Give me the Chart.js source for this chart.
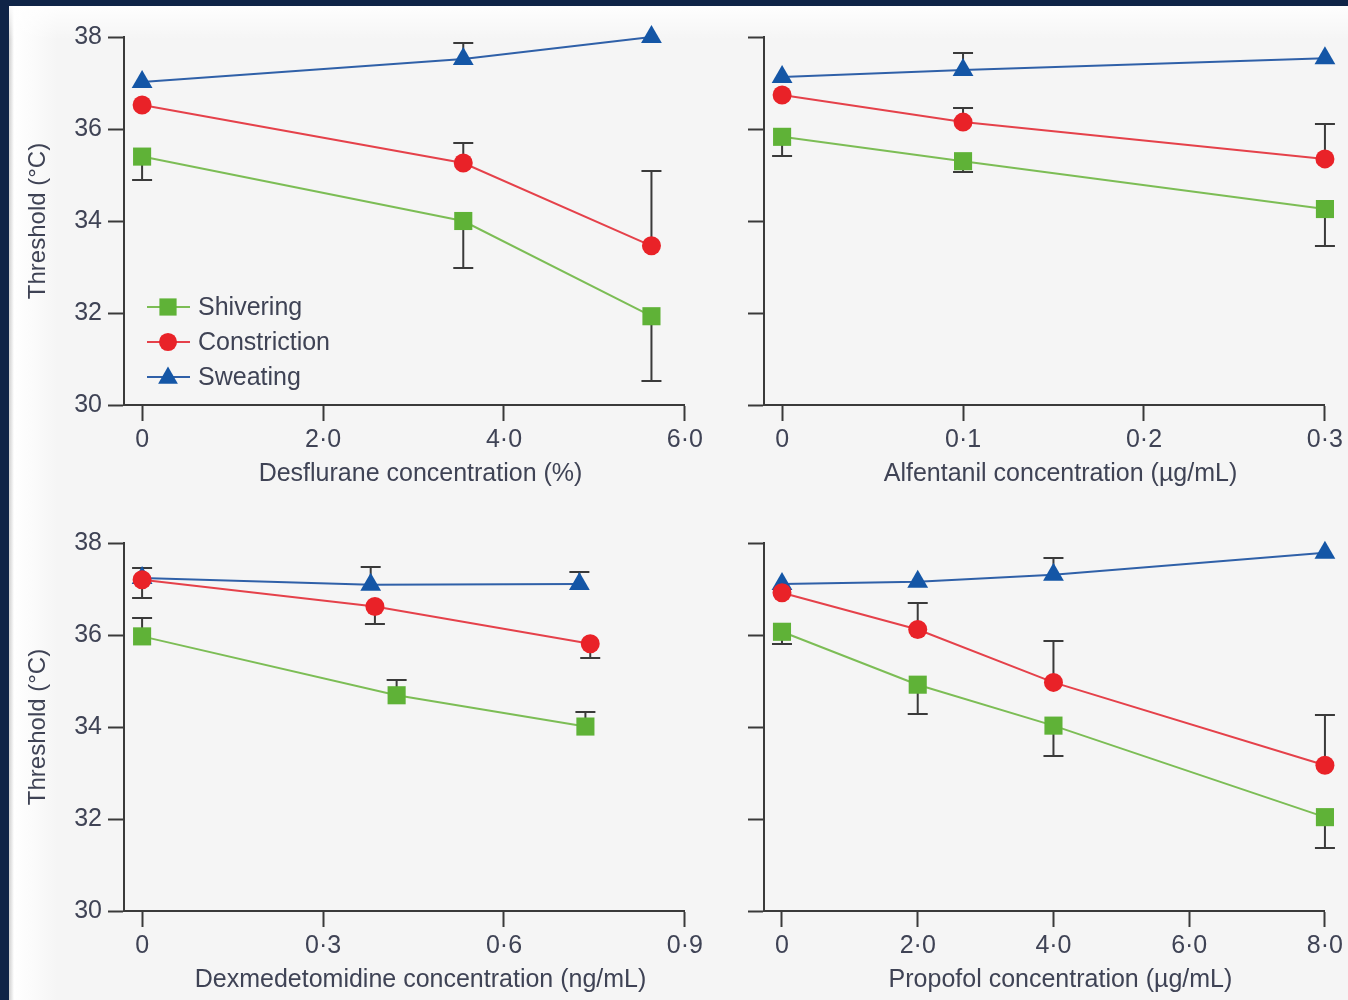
<!DOCTYPE html>
<html>
<head>
<meta charset="utf-8">
<title>Thermoregulatory thresholds</title>
<script src="https://cdn.jsdelivr.net/npm/chart.js@4.4.1/dist/chart.umd.min.js"></script>
<style>
  html, body { margin: 0; padding: 0; overflow: hidden; }
  body { width: 1348px; height: 1000px; background: #0f2447; position: relative; }
  #sheet {
    position: absolute; left: 9px; top: 6px; right: 0; bottom: 0;
    background:
      linear-gradient(to bottom, rgba(255,255,255,0.9) 0, rgba(255,255,255,0) 34px),
      linear-gradient(to right, #cfcfcf 0, #ffffff 5px, #fafafa 28px, #f5f5f5 48px);
  }
  canvas { position: absolute; }
</style>
</head>
<body>
<div id="sheet"></div>
<canvas id="desflurane" width="707" height="494" style="left:0;top:0"></canvas>
<canvas id="alfentanil" width="707" height="494" style="left:640px;top:0"></canvas>
<canvas id="dexmedetomidine" width="707" height="494" style="left:0;top:506px"></canvas>
<canvas id="propofol" width="707" height="494" style="left:640px;top:506px"></canvas>
<script>
// threshold axis (°C), same for every panel
var thresholdTicks = [30, 32, 34, 36, 38];

// desflurane (%)
var desfluraneTicks = [0, 2, 4, 6];
var desfluraneDose = [0, 3.55, 5.63];
var desfluraneShivering = [35.4, 34.0, 31.93];
var desfluraneShiveringBar = [34.89, 32.98, 30.52];
var desfluraneConstriction = [36.52, 35.26, 33.46];
var desfluraneConstrictionBar = [null, 35.7, 35.09];
var desfluraneSweating = [37.02, 37.52, 38.0];
var desfluraneSweatingBar = [null, 37.87, null];

// alfentanil (µg/mL)
var alfentanilTicks = [0, 0.1, 0.2, 0.3];
var alfentanilDose = [0, 0.1, 0.3];
var alfentanilShivering = [35.83, 35.3, 34.26];
var alfentanilShiveringBar = [35.41, 35.07, 33.46];
var alfentanilConstriction = [36.74, 36.15, 35.35];
var alfentanilConstrictionBar = [null, 36.46, 36.11];
var alfentanilSweating = [37.13, 37.28, 37.54];
var alfentanilSweatingBar = [null, 37.65, null];

// dexmedetomidine (ng/mL) - measured doses differ per response
var dexTicks = [0, 0.3, 0.6, 0.9];
var dexShiveringDose = [0, 0.422, 0.735];
var dexShivering = [35.97, 34.69, 34.01];
var dexShiveringBar = [36.38, 35.03, 34.32];
var dexConstrictionDose = [0, 0.386, 0.743];
var dexConstriction = [37.2, 36.62, 35.81];
var dexConstrictionBar = [36.81, 36.25, 35.49];
var dexSweatingDose = [0, 0.379, 0.725];
var dexSweating = [37.24, 37.09, 37.11];
var dexSweatingBar = [37.46, 37.48, 37.38];

// propofol (µg/mL)
var propofolTicks = [0, 2, 4, 6, 8];
var propofolDose = [0, 2, 4, 8];
var propofolShivering = [36.07, 34.92, 34.03, 32.04];
var propofolShiveringBar = [35.81, 34.29, 33.38, 31.37];
var propofolConstriction = [36.92, 36.12, 34.97, 33.17];
var propofolConstrictionBar = [null, 36.7, 35.86, 34.27];
var propofolSweating = [37.11, 37.16, 37.31, 37.79];
var propofolSweatingBar = [null, null, 37.68, null];

var FONT = '"Liberation Sans", Arial, sans-serif';
var INK = '#3f4355';
var AXIS = '#3a3a3a';

var styles = {
  Shivering:    { line: '#7cbd55', mark: '#5fb237', shape: 'rect', r: 12.8 },
  Constriction: { line: '#e5414a', mark: '#e92228', shape: 'circle', r: 9.5 },
  Sweating:     { line: '#2f60a8', mark: '#1456a6', shape: 'triangle', r: 12 }
};

function points(xs, ys) {
  return xs.map(function(x, i) { return { x: x, y: ys[i] }; });
}

function series(name, xs, ys, bars) {
  var s = styles[name];
  return {
    label: name,
    data: points(xs, ys),
    bars: bars,
    borderColor: s.line,
    backgroundColor: s.mark,
    borderWidth: 2,
    pointStyle: s.shape,
    pointRadius: s.r,
    pointBackgroundColor: s.mark,
    pointBorderColor: s.mark,
    pointBorderWidth: 0,
    tension: 0,
    clip: false
  };
}

function dotted(v, digits) {
  return v === 0 ? '0' : v.toFixed(digits).replace('.', '\u00b7');
}

// one-sided SD whiskers, drawn under the markers
var errorBars = {
  id: 'errorBars',
  beforeDatasetsDraw: function(chart) {
    var ctx = chart.ctx, y = chart.scales.y;
    ctx.save();
    ctx.strokeStyle = AXIS;
    ctx.lineWidth = 2;
    chart.data.datasets.forEach(function(ds, di) {
      var meta = chart.getDatasetMeta(di);
      (ds.bars || []).forEach(function(end, i) {
        if (end == null) return;
        var p = meta.data[i];
        var ey = Math.round(y.getPixelForValue(end));
        ctx.beginPath();
        ctx.moveTo(p.x, p.y);
        ctx.lineTo(p.x, ey);
        ctx.moveTo(p.x - 10, ey);
        ctx.lineTo(p.x + 10, ey);
        ctx.stroke();
      });
    });
    ctx.restore();
  }
};

function drawMark(ctx, shape, x, y, r) {
  ctx.beginPath();
  if (shape === 'rect') {
    var h = r * Math.SQRT1_2;
    ctx.rect(x - h, y - h, 2 * h, 2 * h);
  } else if (shape === 'circle') {
    ctx.arc(x, y, r, 0, Math.PI * 2);
  } else {
    ctx.moveTo(x, y - r);
    ctx.lineTo(x + r * 0.866, y + r / 2);
    ctx.lineTo(x - r * 0.866, y + r / 2);
    ctx.closePath();
  }
  ctx.fill();
}

// line + marker key inside the first panel
var seriesKey = {
  id: 'seriesKey',
  afterDatasetsDraw: function(chart, args, opts) {
    if (!opts.show) return;
    var ctx = chart.ctx, area = chart.chartArea;
    var rows = [98, 63, 28];
    ctx.save();
    ctx.font = '25px ' + FONT;
    ctx.textBaseline = 'middle';
    chart.data.datasets.forEach(function(ds, i) {
      var s = styles[ds.label];
      var yy = area.bottom - rows[i];
      var x0 = area.left + 23;
      ctx.strokeStyle = s.line;
      ctx.lineWidth = 2;
      ctx.beginPath();
      ctx.moveTo(x0, yy);
      ctx.lineTo(x0 + 43, yy);
      ctx.stroke();
      ctx.fillStyle = s.mark;
      drawMark(ctx, s.shape, x0 + 21, yy + (s.shape === 'triangle' ? 1 : 0), s.r * 0.95);
      ctx.fillStyle = INK;
      ctx.fillText(ds.label, area.left + 74, yy + 1);
    });
    ctx.restore();
  }
};

// concentration caption under the x axis, centred on the dose range
var doseCaption = {
  id: 'doseCaption',
  afterDraw: function(chart, args, opts) {
    var ctx = chart.ctx, x = chart.scales.x;
    var cx = (x.getPixelForValue(0) + x.right) / 2 + 7;
    ctx.save();
    ctx.font = '25px ' + FONT;
    ctx.fillStyle = INK;
    ctx.textAlign = 'center';
    ctx.textBaseline = 'middle';
    ctx.fillText(opts.text, cx, 474);
    ctx.restore();
  }
};

function panel(id, cfg) {
  return new Chart(document.getElementById(id), {
    type: 'line',
    data: {
      datasets: [
        series('Shivering', cfg.shivX, cfg.shiv, cfg.shivBar),
        series('Constriction', cfg.conX, cfg.con, cfg.conBar),
        series('Sweating', cfg.sweX, cfg.swe, cfg.sweBar)
      ]
    },
    options: {
      responsive: false,
      animation: false,
      events: [],
      layout: { padding: { left: 0, top: 37, right: 20, bottom: 0 } },
      plugins: {
        legend: { display: false },
        tooltip: { enabled: false },
        seriesKey: { show: !!cfg.key },
        doseCaption: { text: cfg.caption }
      },
      scales: {
        x: {
          type: 'linear',
          min: cfg.xMin,
          max: cfg.xTicks[cfg.xTicks.length - 1],
          afterBuildTicks: function(s) { s.ticks = cfg.xTicks.map(function(v) { return { value: v }; }); },
          afterFit: function(s) { s.height = 89; },
          border: { display: true, color: AXIS, width: 2 },
          grid: { drawOnChartArea: false, drawTicks: true, tickLength: 16, tickWidth: 2, tickColor: AXIS },
          ticks: {
            padding: 4,
            maxRotation: 0,
            color: INK,
            font: { family: FONT, size: 25 },
            callback: function(v) { return dotted(v, cfg.digits); }
          }
        },
        y: {
          type: 'linear',
          min: 30,
          max: 38,
          afterBuildTicks: function(s) { s.ticks = thresholdTicks.map(function(v) { return { value: v }; }); },
          afterFit: function(s) { s.width = 124; },
          border: { display: true, color: AXIS, width: 2 },
          grid: { drawOnChartArea: false, drawTicks: true, tickLength: 16, tickWidth: 2, tickColor: AXIS },
          ticks: {
            display: !!cfg.yLabels,
            padding: 6,
            color: INK,
            font: { family: FONT, size: 25 }
          },
          title: {
            display: !!cfg.yLabels,
            text: 'Threshold (\u00b0C)',
            color: INK,
            font: { family: FONT, size: 24 },
            padding: { top: 24, bottom: 0 }
          }
        }
      }
    },
    plugins: [errorBars, seriesKey, doseCaption]
  });
}

panel('desflurane', {
  key: true, yLabels: true, caption: 'Desflurane concentration (%)',
  xMin: -0.2, xTicks: desfluraneTicks, digits: 1,
  shivX: desfluraneDose, shiv: desfluraneShivering, shivBar: desfluraneShiveringBar,
  conX: desfluraneDose, con: desfluraneConstriction, conBar: desfluraneConstrictionBar,
  sweX: desfluraneDose, swe: desfluraneSweating, sweBar: desfluraneSweatingBar
});

panel('alfentanil', {
  caption: 'Alfentanil concentration (\u00b5g/mL)',
  xMin: -0.01, xTicks: alfentanilTicks, digits: 1,
  shivX: alfentanilDose, shiv: alfentanilShivering, shivBar: alfentanilShiveringBar,
  conX: alfentanilDose, con: alfentanilConstriction, conBar: alfentanilConstrictionBar,
  sweX: alfentanilDose, swe: alfentanilSweating, sweBar: alfentanilSweatingBar
});

panel('dexmedetomidine', {
  yLabels: true, caption: 'Dexmedetomidine concentration (ng/mL)',
  xMin: -0.03, xTicks: dexTicks, digits: 1,
  shivX: dexShiveringDose, shiv: dexShivering, shivBar: dexShiveringBar,
  conX: dexConstrictionDose, con: dexConstriction, conBar: dexConstrictionBar,
  sweX: dexSweatingDose, swe: dexSweating, sweBar: dexSweatingBar
});

panel('propofol', {
  caption: 'Propofol concentration (\u00b5g/mL)',
  xMin: -0.265, xTicks: propofolTicks, digits: 1,
  shivX: propofolDose, shiv: propofolShivering, shivBar: propofolShiveringBar,
  conX: propofolDose, con: propofolConstriction, conBar: propofolConstrictionBar,
  sweX: propofolDose, swe: propofolSweating, sweBar: propofolSweatingBar
});
</script>
</body>
</html>
